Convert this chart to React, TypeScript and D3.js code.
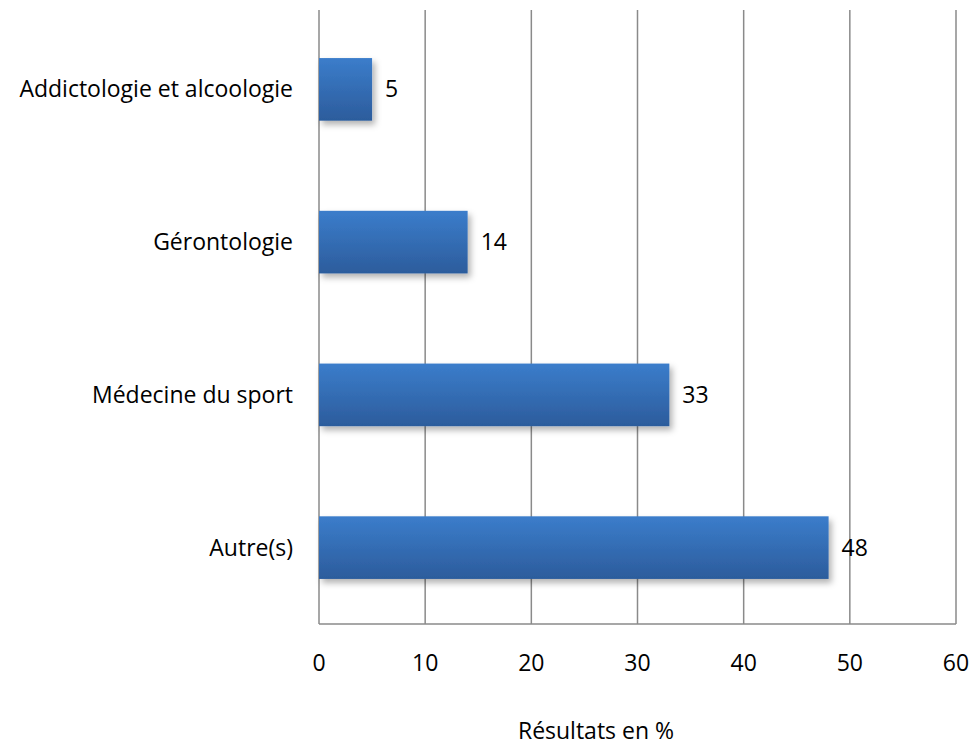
import React from "react";
import * as d3 from "d3";

const categories = ["Addictologie et alcoologie", "Gérontologie", "Médecine du sport", "Autre(s)"];
const values = [5, 14, 33, 48];
const xTicks = [0, 10, 20, 30, 40, 50, 60];
const axisTitle = "Résultats en %";

export default function App() {
  const W = 975, H = 746;
  const x = d3.scaleLinear().domain([0, 60]).range([319, 956]);
  const y = d3.scaleBand().domain(categories).range([13, 624]).paddingInner(0.59).paddingOuter(0.295);
  const font = "'Open Sans', sans-serif";
  const fs = 23;
  return (
    <svg width={W} height={H} style={{ position: "absolute", left: 0, top: 0, background: "#fff" }}>
      <defs>
        <linearGradient id="barGrad" x1="0" y1="0" x2="0" y2="1">
          <stop offset="0" stopColor="#3b7dcb" />
          <stop offset="1" stopColor="#2c5c9c" />
        </linearGradient>
        <filter id="shadow" x="-10%" y="-20%" width="130%" height="160%">
          <feDropShadow dx="3" dy="4" stdDeviation="3" floodColor="#000" floodOpacity="0.3" />
        </filter>
      </defs>
      {xTicks.map((t) => (
        <line key={t} x1={x(t)} x2={x(t)} y1={10} y2={624} stroke="#8a8a8a" strokeWidth={1.5} />
      ))}
      <line x1={x(0)} x2={x(60)} y1={624} y2={624} stroke="#8a8a8a" strokeWidth={1.5} />
      {categories.map((c, i) => (
        <g key={c}>
          <rect x={x(0)} y={y(c)} width={x(values[i]) - x(0)} height={y.bandwidth()} fill="url(#barGrad)" filter="url(#shadow)" />
          <text x={x(values[i]) + 13} y={(y(c) as number) + y.bandwidth() / 2} dy="0.35em" fontFamily={font} fontSize={fs} fill="#000">{values[i]}</text>
          <text x={293} y={(y(c) as number) + y.bandwidth() / 2} dy="0.35em" textAnchor="end" fontFamily={font} fontSize={fs} fill="#000">{c}</text>
        </g>
      ))}
      {xTicks.map((t) => (
        <text key={t} x={x(t)} y={663} dy="0.35em" textAnchor="middle" fontFamily={font} fontSize={fs} fill="#000">{t}</text>
      ))}
      <text x={596} y={739} textAnchor="middle" fontFamily={font} fontSize={fs} fill="#000">{axisTitle}</text>
    </svg>
  );
}
